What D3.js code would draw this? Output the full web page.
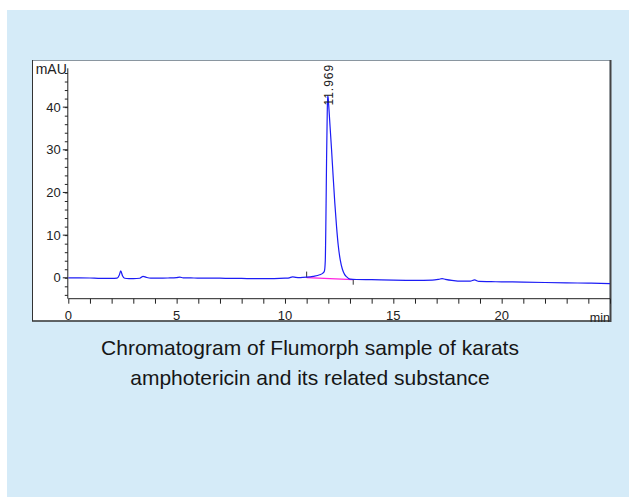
<!DOCTYPE html>
<html>
<head>
<meta charset="utf-8">
<script src="https://cdn.jsdelivr.net/npm/d3@7/dist/d3.min.js"></script>
<style>
  html, body { margin: 0; padding: 0; background: #fff; }
  svg { display: block; }
</style>
</head>
<body>
<svg id="chart" width="629" height="497"></svg>
<script>
// Retention time (min) and detector signal (mAU) of the trace
const times = [0, 0.5, 1.0, 1.5, 2.0, 2.25, 2.35, 2.42, 2.5, 2.6, 2.8, 3.0, 3.3, 3.45, 3.6, 3.8, 4.2, 4.6, 5.0, 5.15, 5.3, 5.8, 6.5, 7.0, 7.5, 8.0, 8.5, 9.0, 9.5, 10.0, 10.2, 10.35, 10.5, 10.7, 11.0, 11.3, 11.6, 11.75, 11.82, 11.86, 11.89, 11.92, 11.95, 11.97, 11.99, 12.03, 12.08, 12.15, 12.22, 12.3, 12.38, 12.46, 12.55, 12.65, 12.75, 12.85, 13.0, 13.3, 14.0, 15.0, 16.0, 16.8, 17.1, 17.25, 17.4, 17.7, 18.2, 18.55, 18.75, 18.95, 19.5, 20.0, 21.0, 22.0, 23.0, 24.0, 25.0];
const signal = [0.0, 0.0, -0.05, -0.15, -0.15, -0.1, 0.6, 1.6, 0.5, -0.1, -0.2, -0.2, -0.1, 0.35, 0.1, -0.1, -0.1, -0.05, 0.05, 0.15, 0.0, -0.05, -0.1, -0.1, -0.15, -0.15, -0.2, -0.2, -0.2, -0.1, 0.0, 0.2, 0.1, 0.05, 0.15, 0.35, 0.7, 1.1, 1.6, 4.0, 14.0, 28.0, 38.5, 42.7, 42.3, 39.5, 35.5, 30.0, 24.0, 17.5, 12.0, 7.5, 4.2, 2.0, 0.8, 0.2, -0.3, -0.4, -0.45, -0.55, -0.6, -0.55, -0.35, -0.2, -0.35, -0.6, -0.8, -0.8, -0.5, -0.85, -0.9, -0.95, -1.0, -1.1, -1.2, -1.25, -1.35];

// Integration baseline drawn under the main peak
const baselineTimes = [11.0, 13.15];
const baselineValues = [0.05, -0.45];

// Peak annotation
const peakTime = 11.969;
const peakHeight = 42.7;
const peakLabel = "11.969";

// Axis ticks
const xMajorTicks = [0, 5, 10, 15, 20];
const xMinorTicks = d3.range(0, 26, 1);
const yMajorTicks = [0, 10, 20, 30, 40];
const yMinorTicks = d3.range(-4, 50, 2);

const captionLines = [
  "Chromatogram of Flumorph sample of karats",
  "amphotericin and its related substance"
];

const svg = d3.select("#chart");
const narrow = "'Liberation Sans Narrow', 'Arial Narrow', Arial, sans-serif";

// Light blue card behind everything
svg.append("rect")
  .attr("x", 7).attr("y", 10).attr("width", 622).attr("height", 487)
  .attr("fill", "#d5ebf8");

// White plot frame
svg.append("rect")
  .attr("x", 32.5).attr("y", 60.5).attr("width", 577).attr("height", 260)
  .attr("fill", "#fff").attr("stroke", "none");
svg.append("line").attr("x1", 32.5).attr("x2", 610).attr("y1", 60.5).attr("y2", 60.5)
  .attr("stroke", "#8a96a0").attr("stroke-width", 1);
svg.append("line").attr("x1", 32.5).attr("x2", 32.5).attr("y1", 60).attr("y2", 321)
  .attr("stroke", "#333").attr("stroke-width", 1);
svg.append("line").attr("x1", 32).attr("x2", 611).attr("y1", 321).attr("y2", 321)
  .attr("stroke", "#333").attr("stroke-width", 1.6);
svg.append("line").attr("x1", 610.5).attr("x2", 610.5).attr("y1", 60).attr("y2", 322)
  .attr("stroke", "#444").attr("stroke-width", 2);

const x = d3.scaleLinear().domain([0, 25]).range([68.3, 610]);
const y = d3.scaleLinear().domain([-4.9, 49.1]).range([298.7, 68.3]);

// X axis: minor ticks every minute, labels every five
const xAxisY = y(-4.9);
const gx = svg.append("g").attr("transform", `translate(0,${xAxisY})`);
gx.call(d3.axisBottom(x).tickValues(xMinorTicks).tickSize(5).tickFormat(""))
  .call(g => g.select(".domain").attr("stroke", "#222").attr("d", `M${x(0)},0H${x(25)}`))
  .call(g => g.selectAll(".tick line").attr("stroke", "#222"));
gx.selectAll(".xlab").data(xMajorTicks).join("text")
  .attr("class", "xlab")
  .attr("x", d => x(d)).attr("y", 21)
  .attr("text-anchor", "middle")
  .attr("font-family", narrow).attr("font-size", 13).attr("fill", "#222")
  .text(d => d);
gx.append("text")
  .attr("x", x(25)).attr("y", 23)
  .attr("text-anchor", "end")
  .attr("font-family", narrow).attr("font-size", 12.5).attr("fill", "#222")
  .text("min");

// Y axis: minor ticks every 2 mAU, labelled every 10
const gy = svg.append("g").attr("transform", `translate(${x(0) - 0.5},0)`);
gy.call(d3.axisLeft(y).tickValues(yMinorTicks).tickSize(3).tickFormat(""))
  .call(g => g.select(".domain").attr("stroke", "#222").attr("d", `M0,${y(49.1)}V${y(-4.9)}`))
  .call(g => g.selectAll(".tick line").attr("stroke", "#222"));
gy.selectAll(".ymaj").data(yMajorTicks).join("line")
  .attr("class", "ymaj")
  .attr("x1", -5).attr("x2", 0)
  .attr("y1", d => y(d)).attr("y2", d => y(d))
  .attr("stroke", "#222");
gy.selectAll(".ylab").data(yMajorTicks).join("text")
  .attr("class", "ylab")
  .attr("x", -7).attr("y", d => y(d) + 4.5)
  .attr("text-anchor", "end")
  .attr("font-family", narrow).attr("font-size", 13).attr("fill", "#222")
  .text(d => d);
gy.append("text")
  .attr("x", -1).attr("y", 74)
  .attr("text-anchor", "end")
  .attr("font-family", narrow).attr("font-size", 14).attr("fill", "#222")
  .text("mAU");

// Integration baseline and its start/end marks
const baseData = baselineTimes.map((t, i) => [t, baselineValues[i]]);
svg.append("path")
  .datum(baseData)
  .attr("fill", "none").attr("stroke", "#ff22e0").attr("stroke-width", 1.3)
  .attr("d", d3.line().x(d => x(d[0])).y(d => y(d[1])));
svg.append("line")
  .attr("x1", x(baselineTimes[0])).attr("x2", x(baselineTimes[0]))
  .attr("y1", y(baselineValues[0]) - 6).attr("y2", y(baselineValues[0]))
  .attr("stroke", "#333");
svg.append("line")
  .attr("x1", x(baselineTimes[1])).attr("x2", x(baselineTimes[1]))
  .attr("y1", y(baselineValues[1])).attr("y2", y(baselineValues[1]) + 5)
  .attr("stroke", "#333");

// Chromatogram trace
const trace = times.map((t, i) => [t, signal[i]]);
svg.append("path")
  .datum(trace)
  .attr("fill", "none").attr("stroke", "#1c1cf5").attr("stroke-width", 1.2)
  .attr("stroke-linejoin", "round")
  .attr("d", d3.line().x(d => x(d[0])).y(d => y(d[1])).curve(d3.curveMonotoneX));

// Retention-time label standing on the apex
svg.append("text")
  .attr("transform", `translate(${x(peakTime) + 5},${y(peakHeight) + 10}) rotate(-90)`)
  .attr("font-family", "Arial, 'Liberation Sans', sans-serif")
  .attr("font-size", 12).attr("letter-spacing", 1).attr("fill", "#222")
  .text(peakLabel);

// Caption below the chart
svg.selectAll(".caption").data(captionLines).join("text")
  .attr("class", "caption")
  .attr("x", 310).attr("y", (d, i) => 355 + i * 30)
  .attr("text-anchor", "middle")
  .attr("font-family", "Arial, 'Liberation Sans', sans-serif")
  .attr("font-size", 21).attr("fill", "#161616")
  .text(d => d);
</script>
</body>
</html>
